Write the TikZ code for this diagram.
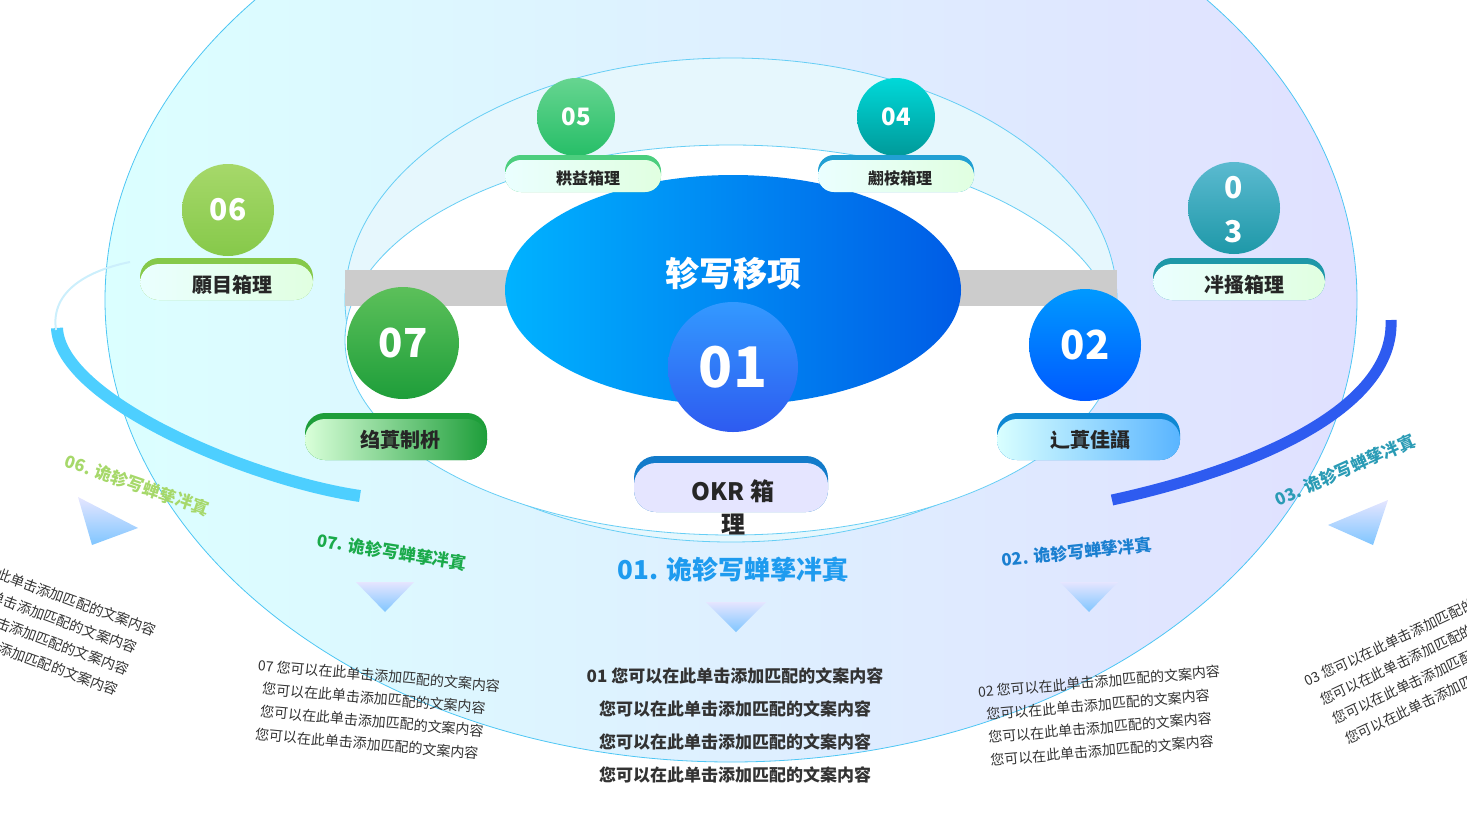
\documentclass[tikz,border=0pt]{standalone}
\usepackage{fontspec}
\setmainfont{Noto Sans CJK SC}
\usetikzlibrary{shadings}
\definecolor{gA}{HTML}{A6D86A}\definecolor{gB}{HTML}{86C94A}
\definecolor{gC}{HTML}{5CC05A}\definecolor{gD}{HTML}{1E9E3A}
\definecolor{tA}{HTML}{5BBAD0}\definecolor{tB}{HTML}{1E98A8}
\definecolor{cA}{HTML}{4DCFFF}\definecolor{bA}{HTML}{2E5BF0}
\definecolor{t01}{HTML}{1E9BEF}\definecolor{t02}{HTML}{1A7FD0}
\definecolor{t07}{HTML}{1AAA4A}\definecolor{t03}{HTML}{2A9BB5}
\begin{document}
\begin{tikzpicture}[x=1pt,y=-1pt,
  circ/.style={circle,minimum size=#1,inner sep=0pt,text=white,font=\bfseries},
  lab/.style={font=\bfseries\fontsize{20}{22}\selectfont,text=black!85},
  body/.style={font=\fontsize{14}{23}\selectfont,align=left,text=black!80},
  tri/.style={top color=blue!10,bottom color=blue!45!cyan!50,draw=none}]
\useasboundingbox (0,0) rectangle (1467,825);
% big ellipses
\path[left color=cyan!14,right color=blue!12,draw=cyan!70,line width=0.8pt] (731,300) ellipse [x radius=626,y radius=462];
\path[fill=cyan!10,draw=cyan!60,line width=0.8pt] (731,300) ellipse [x radius=386,y radius=242];
\path[fill=white,draw=cyan!60,line width=0.8pt] (731,340) ellipse [x radius=386,y radius=195];
% outer arcs
\draw[cA,line width=12pt] (57,328) .. controls (60,400) and (250,480) .. (360,496);
\draw[cyan!20,line width=2pt] (56,330) .. controls (50,290) and (90,270) .. (130,262);
\draw[bA,line width=11pt] (1391,320) .. controls (1395,410) and (1250,470) .. (1112,500);
% gray bar
\fill[gray!40] (345,270) rectangle (1117,306);
% centre ellipse
\path[left color=cyan!70!blue,right color=blue!60!cyan!90!black] (733,290) ellipse [x radius=228,y radius=115];
\node[font=\bfseries\fontsize{34}{36}\selectfont,text=white] (title) at (733,274) {轸写移项};
\shade[top color=cyan!50!blue!80,bottom color=bA] (733,367) circle (65);
\node[circ=130pt,font=\bfseries\fontsize{56}{58}\selectfont] (c01) at (733,367) {01};
% OKR label
\fill[cyan!60!blue,rounded corners=22pt] (634,456) rectangle (828,512);
\fill[blue!10,rounded corners=22pt] (634,463) rectangle (828,512);
\node[lab,font=\bfseries\fontsize{24}{33}\selectfont,align=center] (l01) at (733,507) {OKR 箱\\理};
% 07
\shade[top color=gC,bottom color=gD] (403,343) circle (56);
\node[circ=112pt,font=\bfseries\fontsize{40}{42}\selectfont] (c07) at (403,343) {07};
\fill[gD,rounded corners=20pt] (305,413) rectangle (487,460);
\shade[left color=green!15,right color=gD,rounded corners=20pt] (305,419) rectangle (487,460);
\node[lab] (l07) at (400,440) {绉蒖制枡};
% 02
\shade[top color=cyan!60!blue,bottom color=blue!65!cyan] (1085,345) circle (56);
\node[circ=112pt,font=\bfseries\fontsize{40}{42}\selectfont] (c02) at (1085,345) {02};
\fill[cyan!70!blue,rounded corners=20pt] (997,413) rectangle (1180,460);
\shade[left color=cyan!15,right color=cyan!55!blue!65,rounded corners=20pt] (997,419) rectangle (1180,460);
\node[lab] (l02) at (1090,440) {辶蒖佳讘};
% 06
\shade[top color=gA,bottom color=gB] (228,210) circle (46);
\node[circ=92pt,font=\bfseries\fontsize{30}{32}\selectfont] (c06) at (228,210) {06};
\fill[gB,rounded corners=19pt] (140,258) rectangle (313,300);
\shade[left color=cyan!8,right color=green!12,rounded corners=19pt] (140,264) rectangle (313,300);
\node[lab] (l06) at (232,285) {願目箱理};
% 03
\shade[top color=tA,bottom color=tB] (1234,208) circle (46);
\node[circ=92pt,font=\bfseries\fontsize{30}{44}\selectfont,align=center] (c03) at (1234,210) {0\\3};
\fill[tB,rounded corners=19pt] (1153,258) rectangle (1325,300);
\shade[left color=cyan!8,right color=green!12,rounded corners=19pt] (1153,264) rectangle (1325,300);
\node[lab] (l03) at (1244,285) {冸搔箱理};
% 05
\shade[top color=green!45!teal!60,bottom color=green!40!teal!85] (576,117) circle (39);
\node[circ=78pt,font=\bfseries\fontsize{24}{26}\selectfont] (c05) at (576,117) {05};
\fill[green!45!teal!70,rounded corners=16pt] (505,155) rectangle (661,192);
\shade[left color=cyan!8,right color=green!12,rounded corners=16pt] (505,160) rectangle (661,192);
\node[lab,font=\bfseries\fontsize{16}{18}\selectfont] (l05) at (588,178) {粠益箱理};
% 04
\shade[top color=cyan!70!teal,bottom color=teal!80!cyan] (896,117) circle (39);
\node[circ=78pt,font=\bfseries\fontsize{24}{26}\selectfont] (c04) at (896,117) {04};
\fill[cyan!70!teal,rounded corners=16pt] (818,155) rectangle (974,192);
\shade[left color=cyan!8,right color=green!12,rounded corners=16pt] (818,160) rectangle (974,192);
\node[lab,font=\bfseries\fontsize{16}{18}\selectfont] (l04) at (900,178) {翽桉箱理};
% titles
\node[font=\bfseries\fontsize{26}{28}\selectfont,text=t01] (t01) at (733,570) {01. 诡轸写蝉孳冸寘};
\node[font=\bfseries\fontsize{17}{19}\selectfont,text=t02,rotate=6] (t02) at (1077,552) {02. 诡轸写蝉孳冸寘};
\node[font=\bfseries\fontsize{17}{19}\selectfont,text=t07,rotate=-9] (t07) at (392,552) {07. 诡轸写蝉孳冸寘};
\node[font=\bfseries\fontsize{17}{19}\selectfont,text=gA,rotate=-19] (t06) at (137,485) {06. 诡轸写蝉孳冸寘};
\node[font=\bfseries\fontsize{17}{19}\selectfont,text=t03,rotate=24] (t03) at (1345,470) {03. 诡轸写蝉孳冸寘};
% triangles
\path[tri] (706,602) -- (766,602) -- (736,632) -- cycle;
\path[tri] (1060,582) -- (1118,582) -- (1089,612) -- cycle;
\path[tri] (356,582) -- (414,582) -- (385,612) -- cycle;
\path[tri] (78,497) -- (138,528) -- (92,545) -- cycle;
\path[tri] (1388,500) -- (1328,525) -- (1373,545) -- cycle;
% bodies
\node[body,font=\bfseries\fontsize{17}{33}\selectfont,align=center] (b01) at (735,725) {01 您可以在此单击添加匹配的文案内容\\您可以在此单击添加匹配的文案内容\\您可以在此单击添加匹配的文案内容\\您可以在此单击添加匹配的文案内容};
\node[body,rotate=5] (b02) at (1102,716) {02 您可以在此单击添加匹配的文案内容\\\ \ 您可以在此单击添加匹配的文案内容\\\ \ 您可以在此单击添加匹配的文案内容\\\ \ 您可以在此单击添加匹配的文案内容};
\node[body,rotate=-5] (b07) at (376,710) {07 您可以在此单击添加匹配的文案内容\\\ \ 您可以在此单击添加匹配的文案内容\\\ \ 您可以在此单击添加匹配的文案内容\\\ 您可以在此单击添加匹配的文案内容};
\node[body,rotate=-20] (b06) at (30,622) {06 您可以在此单击添加匹配的文案内容\\\ \ 您可以在此单击添加匹配的文案内容\\\ \ 您可以在此单击添加匹配的文案内容\\\ 您可以在此单击添加匹配的文案内容};
\node[body,rotate=25] (b03) at (1430,662) {03 您可以在此单击添加匹配的文案内容\\\ \ 您可以在此单击添加匹配的文案内容\\\ \ \ 您可以在此单击添加匹配的文案内容\\\ \ \ \ 您可以在此单击添加匹配的文案内容};
\end{tikzpicture}
\end{document}
